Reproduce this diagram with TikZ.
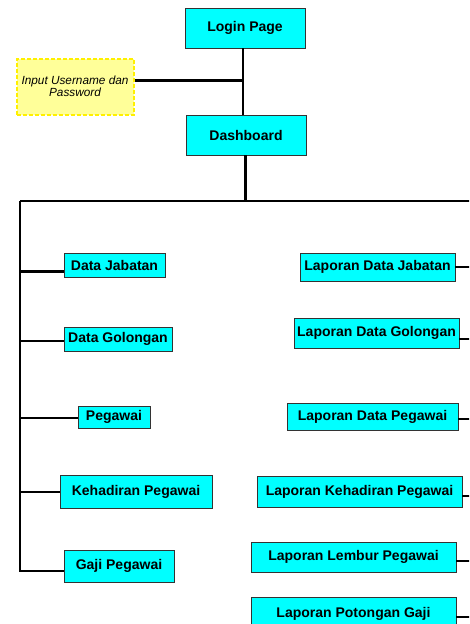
\documentclass[tikz,border=0pt]{standalone}
\usepackage{fontspec}
\setmainfont{Liberation Sans}
\definecolor{boxcyan}{RGB}{0,255,255}
\definecolor{notefill}{RGB}{255,255,153}
\definecolor{notedraw}{RGB}{255,240,0}
\begin{document}
\begin{tikzpicture}[x=1pt,y=-1pt,
  box/.style={draw=black!80, line width=0.9pt, fill=boxcyan, inner sep=0pt, font=\fontsize{14}{15}\selectfont\bfseries},
  note/.style={draw=notedraw, dash pattern=on 4pt off 2pt, line width=2pt, fill=notefill, inner sep=0pt, align=center, font=\fontsize{11.8}{10.5}\selectfont\itshape},
  link/.style={line width=2pt, black},
  thick link/.style={line width=3pt, black}]
\useasboundingbox (0,0) rectangle (469,624);
\clip (0,0) rectangle (469,624);
\node[box, minimum width=120pt, minimum height=40pt] (login) at (245,28) {Login Page};
\node[box, minimum width=120pt, minimum height=40pt] (dash) at (246,135) {Dashboard};
\node[note, minimum width=117pt, minimum height=56pt] (input) at (75,86.5) {Input Username dan\\Password};
% left column
\node[box, minimum width=101pt, minimum height=24pt] (dj) at (114.5,265) {Data Jabatan};
\node[box, minimum width=108pt, minimum height=24pt] (dg) at (118,339) {Data Golongan};
\node[box, minimum width=72pt, minimum height=22pt] (pg) at (114,417) {Pegawai};
\node[box, minimum width=152pt, minimum height=33pt] (kp) at (136,491.5) {Kehadiran Pegawai};
\node[box, minimum width=110pt, minimum height=32pt] (gp) at (119,566) {Gaji Pegawai};
% right column
\node[box, minimum width=155pt, minimum height=28pt] (ldj) at (377.5,267) {Laporan Data Jabatan};
\node[box, minimum width=165pt, minimum height=30pt] (ldg) at (376.5,333) {Laporan Data Golongan};
\node[box, minimum width=171pt, minimum height=27pt] (ldp) at (372.5,416.5) {Laporan Data Pegawai};
\node[box, minimum width=205pt, minimum height=31pt] (lkp) at (359.5,491.5) {Laporan Kehadiran Pegawai};
\node[box, minimum width=205pt, minimum height=30pt] (llp) at (353.5,557) {Laporan Lembur Pegawai};
\node[box, minimum width=205pt, minimum height=34pt] (lpg) at (353.5,614) {Laporan Potongan Gaji};
% junctions
\coordinate (j1) at (243,80);
\coordinate (bar) at (245,201);
\coordinate (barL) at (20,201);
\coordinate (barR) at (470,201);
\coordinate (spineEnd) at (20,572);
\coordinate (edge) at (470,0);
% connectors
\draw[link] (login.south -| j1) -- (dash.north -| j1);
\draw[thick link] (input.east |- j1) -- (j1);
\draw[thick link] (dash.south -| bar) -- (bar);
\draw[link] (barL) -- (barR);
\draw[link] (barL) -- (spineEnd);
\draw[thick link] (barL |- 0,271) -- (dj.west |- 0,271);
\draw[link] (barL |- 0,341) -- (dg.west |- 0,341);
\draw[link] (barL |- 0,418) -- (pg.west |- 0,418);
\draw[link] (barL |- 0,492) -- (kp.west |- 0,492);
\draw[link] (spineEnd |- 0,571) -- (gp.west |- 0,571);
\draw[link] (ldj.east |- 0,267) -- (edge |- 0,267);
\draw[link] (ldg.east |- 0,339) -- (edge |- 0,339);
\draw[link] (ldp.east |- 0,419) -- (edge |- 0,419);
\draw[link] (lkp.east |- 0,496) -- (edge |- 0,496);
\draw[link] (llp.east |- 0,561) -- (edge |- 0,561);
\draw[link] (lpg.east |- 0,617) -- (edge |- 0,617);
\end{tikzpicture}
\end{document}
